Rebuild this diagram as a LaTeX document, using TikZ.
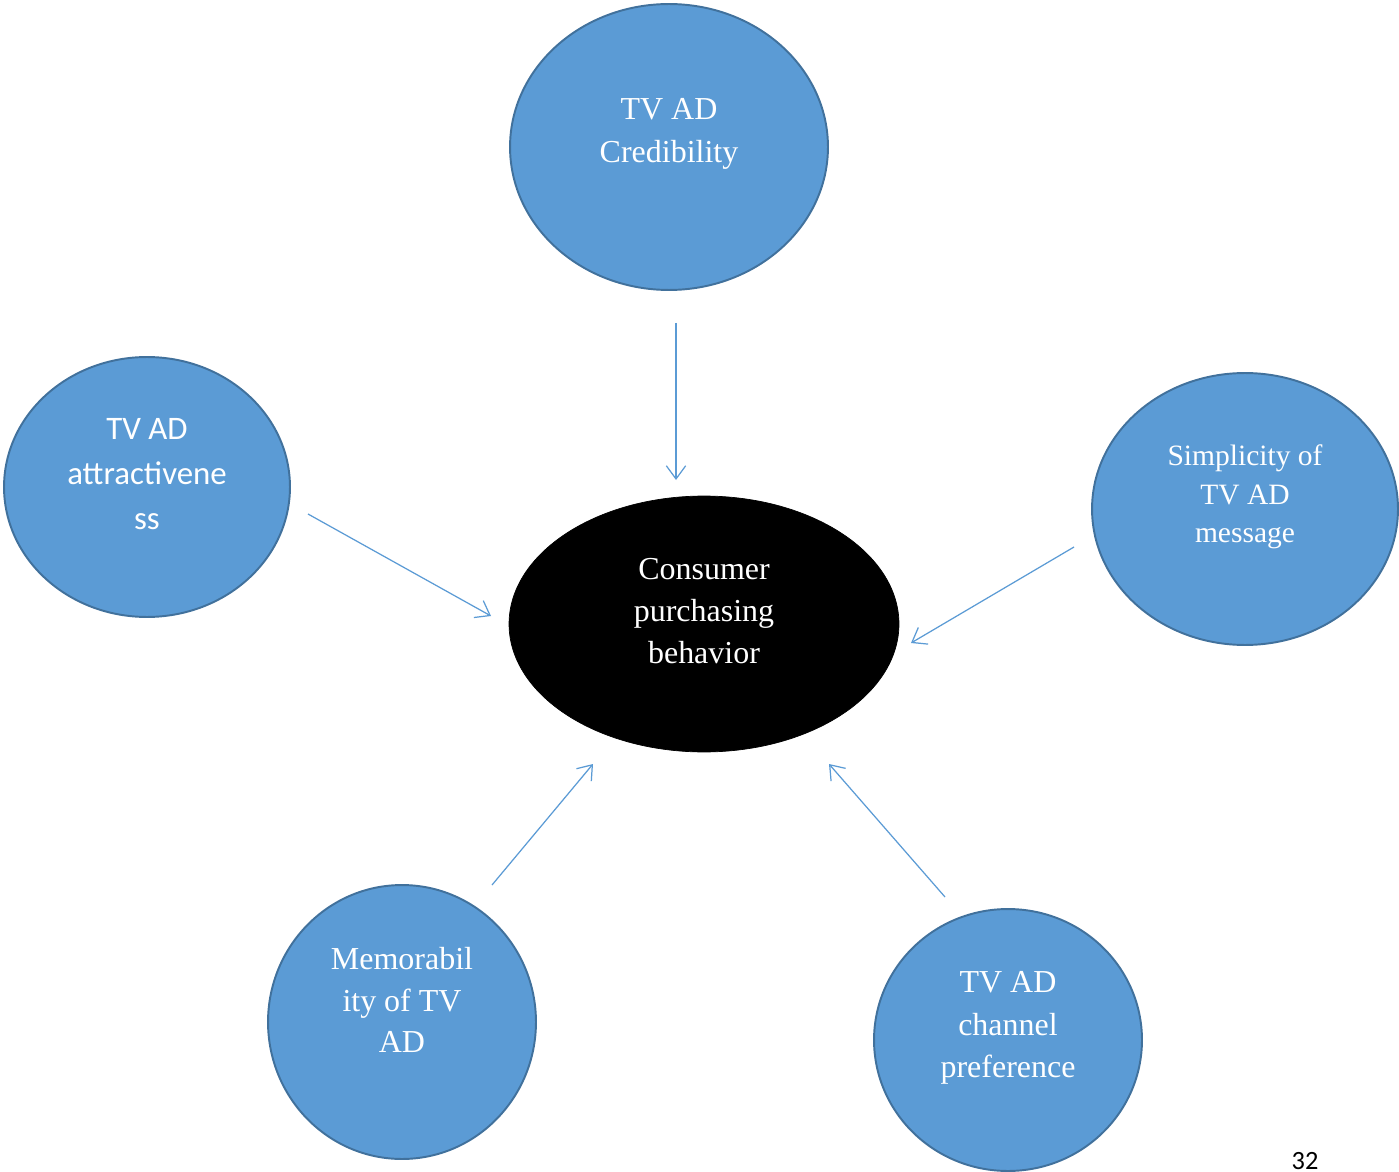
\documentclass[tikz,border=0pt]{standalone}
\usepackage{fontspec}
\setmainfont{Liberation Serif}
\newfontfamily\calib{Carlito}
\usetikzlibrary{shapes.geometric,arrows.meta}
\definecolor{bfill}{HTML}{5B9BD5}
\definecolor{bedge}{HTML}{41719C}
\definecolor{arr}{HTML}{5B9BD5}
\begin{document}
\begin{tikzpicture}[x=0.02cm,y=-0.02cm,
  bub/.style={ellipse,draw=bedge,line width=1.1pt,fill=bfill,inner sep=0pt},
  hub/.style={ellipse,draw=black,fill=black,inner sep=0pt},
  lbl/.style={text=white,align=center,inner sep=0pt},
  link/.style={draw=arr,line width=0.7pt,-{Straight Barb[length=7.5pt,width=11pt,line width=0.7pt]}}]
\useasboundingbox (0,0) rectangle (1399,1172);
\fill[white] (0,0) rectangle (1399,1172);
% bubbles
\node[bub,minimum width=6.36cm,minimum height=5.72cm] (top) at (669,147) {};
\node[bub,minimum width=5.72cm,minimum height=5.2cm] (left) at (147,487) {};
\node[bub,minimum width=6.12cm,minimum height=5.44cm] (right) at (1245,509) {};
\node[bub,minimum width=5.36cm,minimum height=5.48cm] (bl) at (402,1022) {};
\node[bub,minimum width=5.36cm,minimum height=5.24cm] (br) at (1008,1040) {};
\node[hub,minimum width=7.8cm,minimum height=5.12cm] (hub) at (704,624) {};
% labels
\node[lbl,font={\fontsize{18.2}{24.4}\selectfont}] (ttop) at (669,134) {TV AD\\Credibility};
\node[lbl,font={\calib\fontsize{18.7}{25.5}\selectfont}] (tleft) at (147,474) {TV AD\\attractivene\\ss};
\node[lbl,font={\fontsize{16.8}{22}\selectfont}] (tright) at (1245,497) {Simplicity of\\TV AD\\message};
\node[lbl,font={\fontsize{18.2}{23.8}\selectfont}] (tbl) at (402,1000) {Memorabil\\ity of TV\\AD};
\node[lbl,font={\fontsize{18.2}{24.1}\selectfont}] (tbr) at (1008,1028) {TV AD\\channel\\preference};
\node[lbl,font={\fontsize{18.2}{24.1}\selectfont}] (thub) at (704,611) {Consumer\\purchasing\\behavior};
\node[inner sep=0pt,font={\calib\fontsize{15}{18}\selectfont}] (pg) at (1305,1161) {32};
% connector ends
\coordinate (a1) at (676,323); \coordinate (b1) at (676,480);
\coordinate (a2) at (308,514); \coordinate (b2) at (491,616);
\coordinate (a3) at (1074,547); \coordinate (b3) at (911,643);
\coordinate (a4) at (492,885); \coordinate (b4) at (593,764);
\coordinate (a5) at (945,897); \coordinate (b5) at (829,764);
\draw[link] (a1) -- (b1);
\draw[link] (a2) -- (b2);
\draw[link] (a3) -- (b3);
\draw[link] (a4) -- (b4);
\draw[link] (a5) -- (b5);
\end{tikzpicture}
\end{document}
